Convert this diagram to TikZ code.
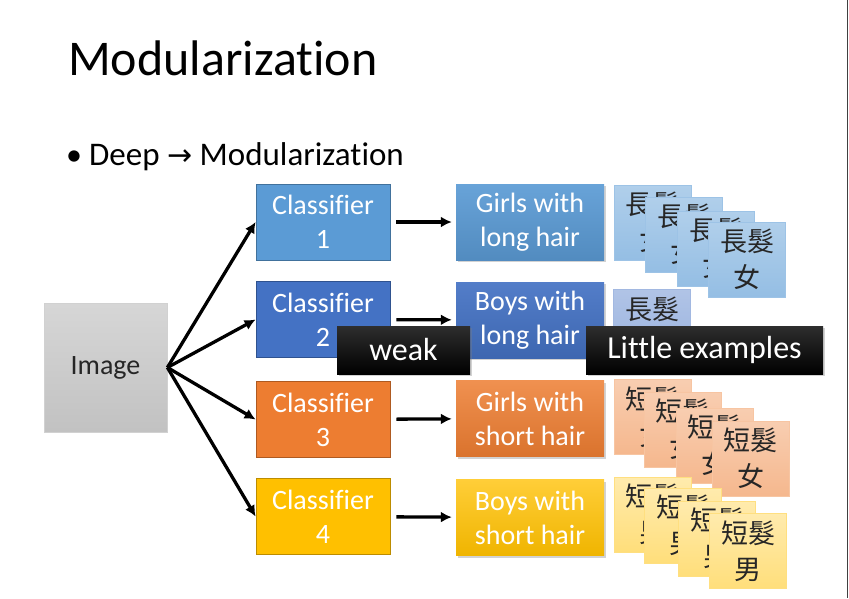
\documentclass[tikz,border=0pt]{standalone}
\usepackage{fontspec}
\setmainfont{Carlito}[Ligatures=NoCommon]
\newfontfamily\cjkfont{Noto Sans CJK TC}
\newfontfamily\arrowfont{DejaVu Sans}
\usetikzlibrary{arrows.meta,shadows}

\definecolor{cOne}{HTML}{5B9BD5}
\definecolor{cOneB}{HTML}{41719C}
\definecolor{cTwo}{HTML}{4472C4}
\definecolor{cTwoB}{HTML}{2F528F}
\definecolor{cThree}{HTML}{ED7D31}
\definecolor{cThreeB}{HTML}{AE5A21}
\definecolor{cFour}{HTML}{FFC000}
\definecolor{cFourB}{HTML}{BC8C00}

\tikzset{
  x=1pt, y=1pt,
  txt/.style={font=\fontsize{28}{34}\selectfont, align=center, text=white},
  clsbox/.style={txt, draw=#1B, fill=#1, line width=0.8pt,
    minimum width=134pt, minimum height=76pt, inner sep=0pt},
  resbox/.style={txt, draw=none, minimum width=148pt, minimum height=76pt,
    inner sep=0pt, drop shadow={opacity=0.35, shadow xshift=2pt, shadow yshift=-2pt}},
  card/.style={font=\cjkfont\fontsize{27}{36}\selectfont, align=center,
    text=black!85, draw=#1, line width=0.6pt,
    minimum width=77pt, minimum height=75pt, inner sep=0pt},
  blabel/.style={font=\fontsize{32}{36}\selectfont, text=white,
    top color=black!82, bottom color=black, draw=none,
    minimum height=48pt, inner sep=0pt,
    drop shadow={opacity=0.35, shadow xshift=2pt, shadow yshift=-2pt}},
  arr/.style={line width=3.3pt, -{Latex[length=11pt,width=11pt]}},
}

\begin{document}
\begin{tikzpicture}
\useasboundingbox (0,0) rectangle (849,-598);
\fill[white] (0,0) rectangle (849,-598);
\draw[black!75, line width=1.4pt] (847.5,0) -- (847.5,-598);

% heading and bullet
\node[anchor=base west, inner sep=0pt, font=\fontsize{50}{60}\selectfont] (title) at (68,-75) {Modularization};
\node[anchor=base west, inner sep=0pt, font=\fontsize{32}{38}\selectfont] (bullet) at (66,-165) {•};
\node[anchor=base west, inner sep=0pt, font=\fontsize{33}{38}\selectfont] (point) at (89,-165)
  {Deep {\arrowfont\fontsize{30}{30}\selectfont →} Modularization};

% input
\node[draw=black!18, top color=black!16, bottom color=black!24, line width=0.8pt,
  minimum width=123pt, minimum height=129pt, inner sep=0pt,
  font=\fontsize{28}{34}\selectfont, text=black!85] (img) at (105.5,-367.5) {Image};

% classifiers
\node[clsbox=cOne]   (c1) at (323,-222)   {Classifier\\1};
\node[clsbox=cTwo]   (c2) at (323,-319.5) {Classifier\\2};
\node[clsbox=cThree] (c3) at (323,-419.5) {Classifier\\3};
\node[clsbox=cFour]  (c4) at (323,-516.5) {Classifier\\4};

% outputs
\node[resbox, top color=cOne!92!white, bottom color=cOne!90!black]     (r1) at (530,-222)   {Girls with\\long hair};
\node[resbox, top color=cTwo!92!white, bottom color=cTwo!90!black]     (r2) at (530,-320)   {Boys with\\long hair};
\node[resbox, top color=cThree!85!white, bottom color=cThree!92!black] (r3) at (530,-418.5) {Girls with\\short hair};
\node[resbox, top color=cFour!78!white, bottom color=cFour!94!black]   (r4) at (530,-517.5) {Boys with\\short hair};

% connectors
\foreach \k in {1,2,3,4} {
  \draw[arr] (img.east) -- (c\k.west);
  \draw[arr, shorten <=6pt, shorten >=4pt] (c\k) -- (r\k);
}

% example cards: long hair, girls
\foreach \n/\cx/\cy in {a/652.5/-222.5, b/684/-234.5, c/716/-248.5, d/747/-259.5} {
  \node[card=cOne!60, top color=cOne!48!white, bottom color=cOne!65!white] (lg\n) at (\cx,\cy) {長髮\\女};
}
% long hair, boys
\node[card=cTwo!50, top color=cTwo!42!white, bottom color=cTwo!55!white] (lb) at (652,-327) {長髮\\\phantom{男}};
% short hair, girls
\foreach \n/\cx/\cy in {a/652.5/-417, b/682.5/-429.5, c/714.5/-445.5, d/750.5/-458.5} {
  \node[card=cThree!45, top color=cThree!38!white, bottom color=cThree!55!white] (sg\n) at (\cx,\cy) {短髮\\女};
}
% short hair, boys
\foreach \n/\cx/\cy in {a/652.5/-514.5, b/683/-525.5, c/717/-538.5, d/748/-551} {
  \node[card=cFour!50, top color=cFour!32!white, bottom color=cFour!52!white] (sb\n) at (\cx,\cy) {短髮\\男};
}

% annotations
\node[blabel, minimum width=133pt] (weak) at (403.5,-350) {weak};
\node[blabel, minimum width=237pt] (few) at (704.5,-350) {Little examples};
\end{tikzpicture}
\end{document}
